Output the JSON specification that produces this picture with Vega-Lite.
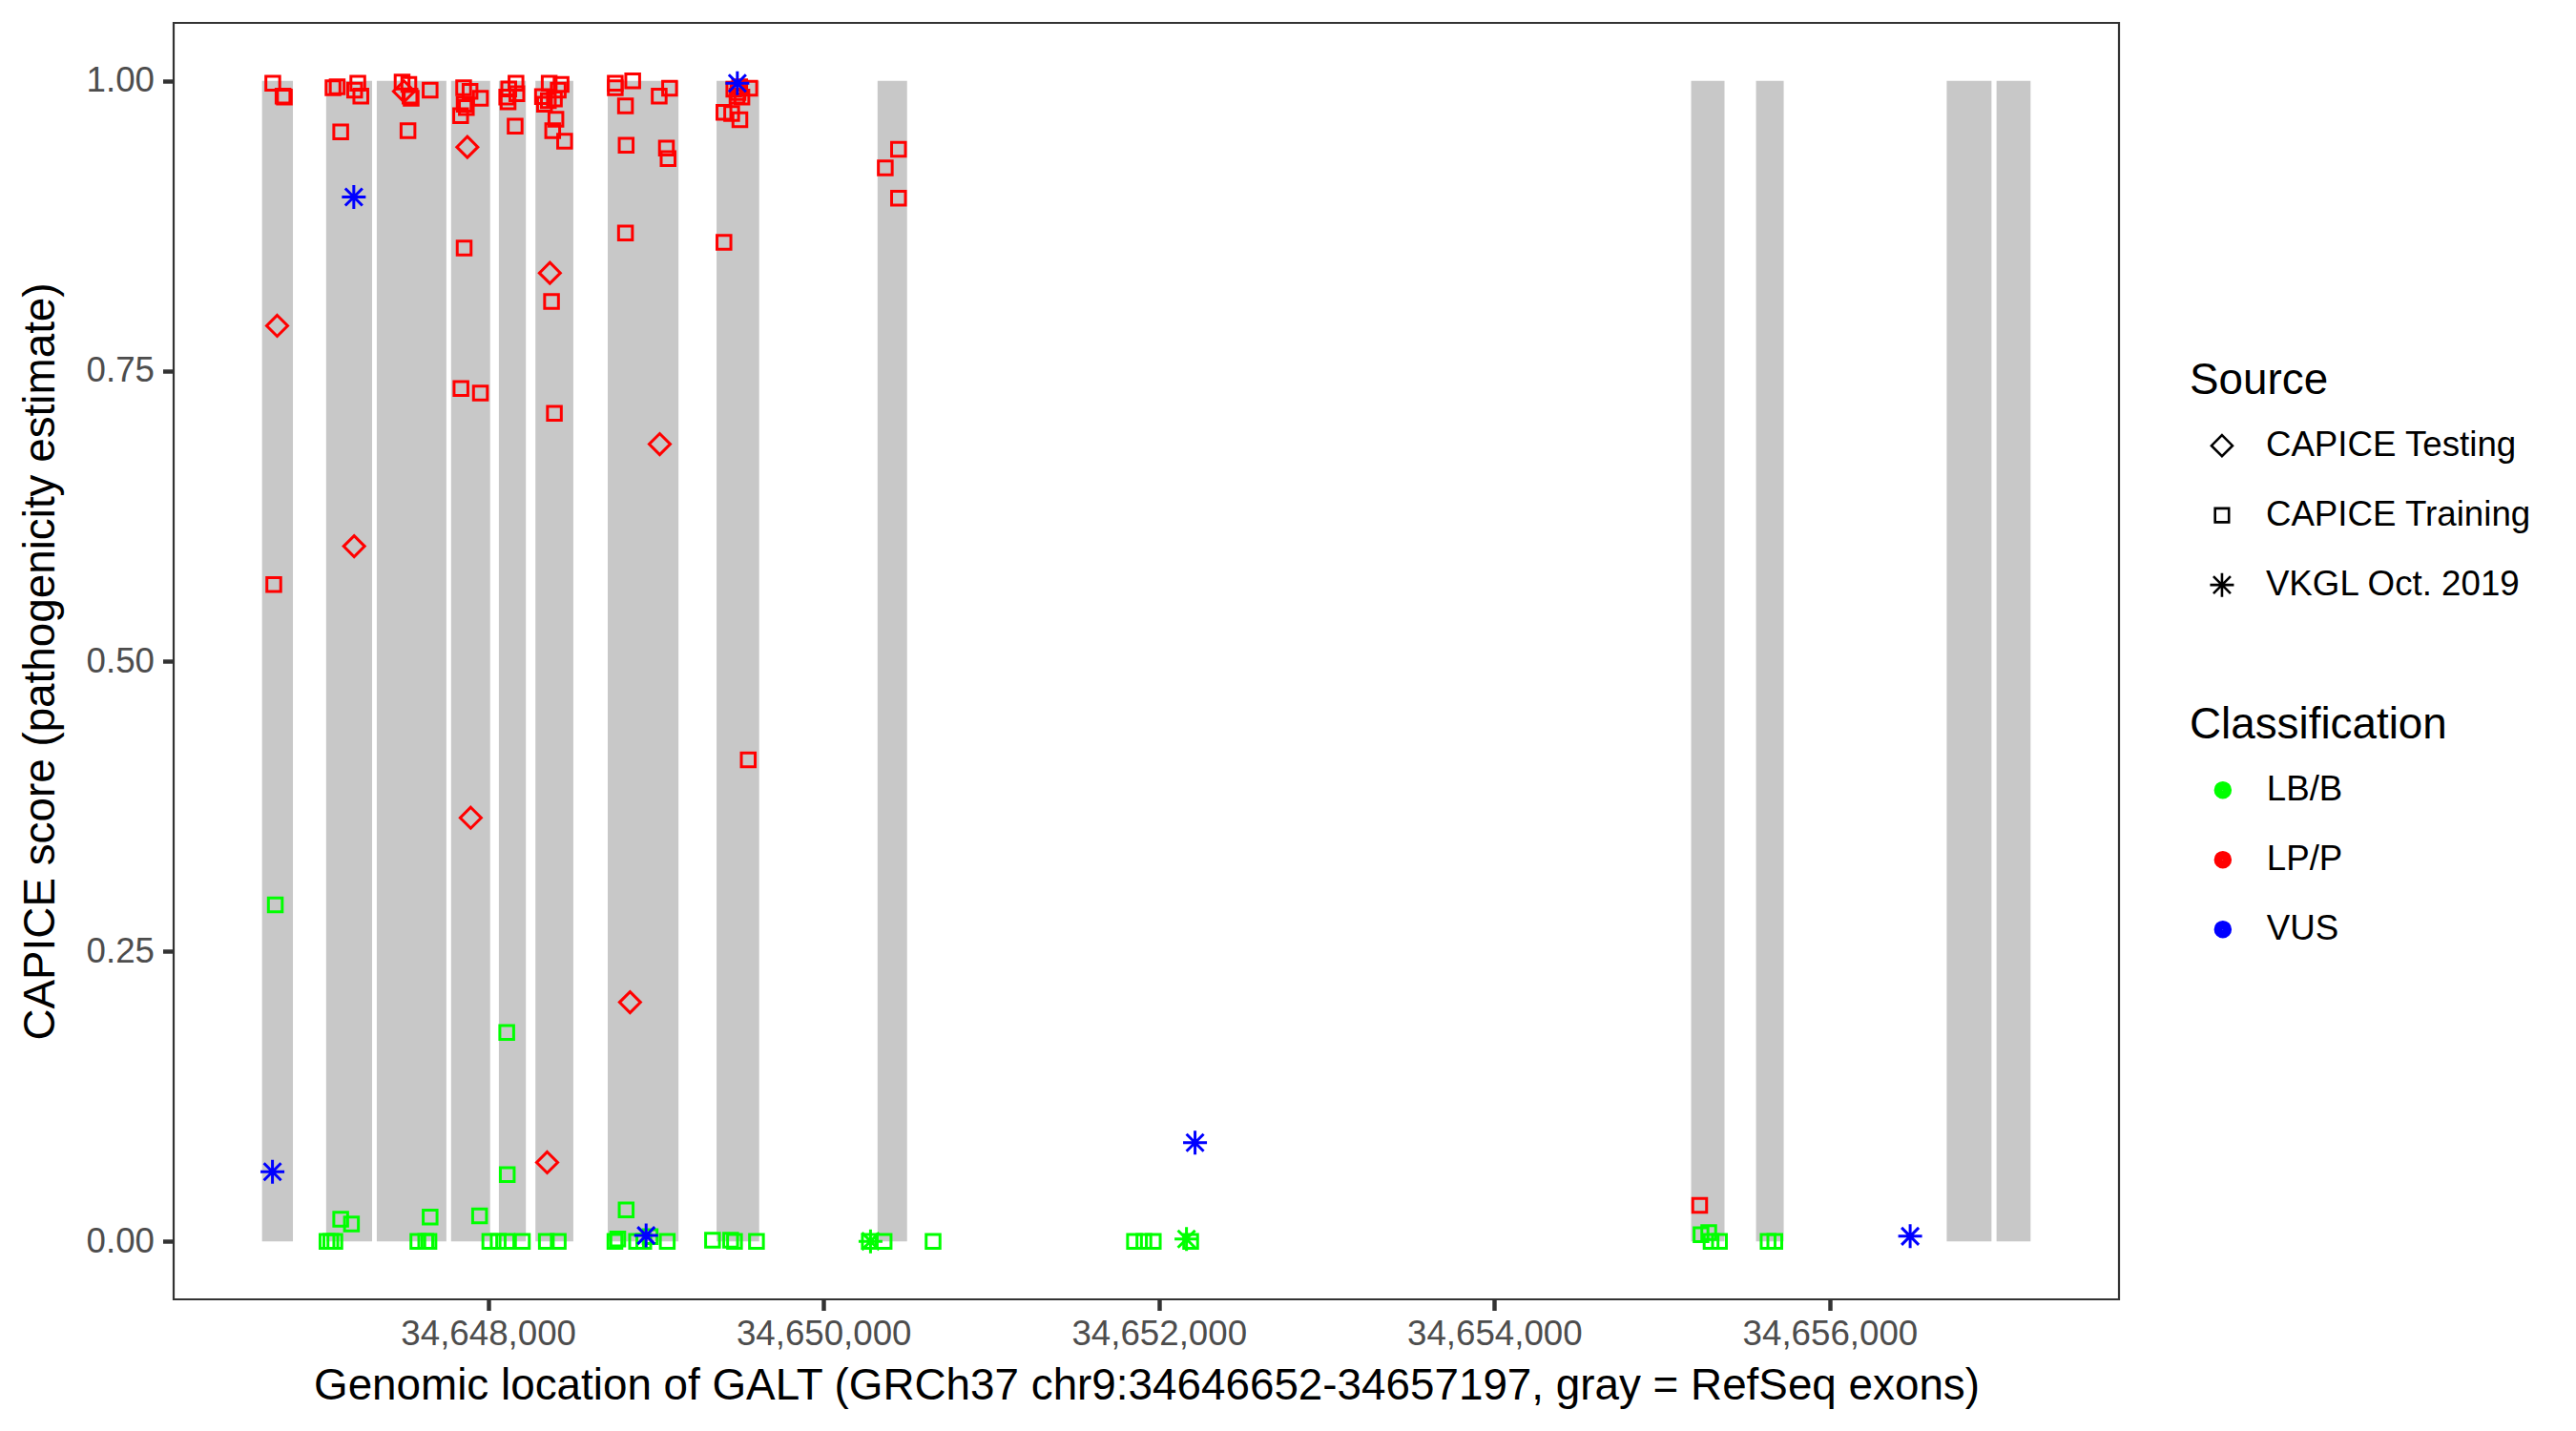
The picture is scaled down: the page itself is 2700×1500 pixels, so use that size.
{
  "$schema": "https://vega.github.io/schema/vega-lite/v6.json",
  "width": 2039,
  "height": 1338,
  "autosize": {"type": "none"},
  "padding": {"left": 182, "top": 24, "right": 479, "bottom": 138},
  "background": "white",
  "config": {
    "view": {"stroke": "#333333", "strokeWidth": 2.2},
    "font": "Liberation Sans",
    "axis": {"labelFont": "Liberation Sans", "titleFont": "Liberation Sans", "grid": false, "domain": false, "labelLimit": 1000, "titleLimit": 3000},
    "legend": {"labelFont": "Liberation Sans", "titleFont": "Liberation Sans", "labelLimit": 1000, "titleLimit": 1000}
  },
  "datasets": {
    "exons": [
      {"start": 34646652, "end": 34646836},
      {"start": 34647034, "end": 34647308},
      {"start": 34647336, "end": 34647751},
      {"start": 34647779, "end": 34648012},
      {"start": 34648064, "end": 34648225},
      {"start": 34648282, "end": 34648508},
      {"start": 34648713, "end": 34649135},
      {"start": 34649362, "end": 34649616},
      {"start": 34650322, "end": 34650498},
      {"start": 34655173, "end": 34655372},
      {"start": 34655560, "end": 34655725},
      {"start": 34656697, "end": 34656964},
      {"start": 34656994, "end": 34657197}
    ],
    "points": [
      {"pos": 34646716, "score": 0.998, "source": "CAPICE Training", "cls": "LP/P"},
      {"pos": 34646777, "score": 0.987, "source": "CAPICE Training", "cls": "LP/P"},
      {"pos": 34646785, "score": 0.986, "source": "CAPICE Training", "cls": "LP/P"},
      {"pos": 34646742, "score": 0.789, "source": "CAPICE Testing", "cls": "LP/P"},
      {"pos": 34646722, "score": 0.566, "source": "CAPICE Training", "cls": "LP/P"},
      {"pos": 34646731, "score": 0.290, "source": "CAPICE Training", "cls": "LB/B"},
      {"pos": 34647075, "score": 0.994, "source": "CAPICE Training", "cls": "LP/P"},
      {"pos": 34647100, "score": 0.995, "source": "CAPICE Training", "cls": "LP/P"},
      {"pos": 34647223, "score": 0.998, "source": "CAPICE Training", "cls": "LP/P"},
      {"pos": 34647204, "score": 0.992, "source": "CAPICE Training", "cls": "LP/P"},
      {"pos": 34647241, "score": 0.987, "source": "CAPICE Training", "cls": "LP/P"},
      {"pos": 34647121, "score": 0.956, "source": "CAPICE Training", "cls": "LP/P"},
      {"pos": 34647201, "score": 0.599, "source": "CAPICE Testing", "cls": "LP/P"},
      {"pos": 34647121, "score": 0.019, "source": "CAPICE Training", "cls": "LB/B"},
      {"pos": 34647185, "score": 0.015, "source": "CAPICE Training", "cls": "LB/B"},
      {"pos": 34647039, "score": 0.0, "source": "CAPICE Training", "cls": "LB/B"},
      {"pos": 34647062, "score": 0.0, "source": "CAPICE Training", "cls": "LB/B"},
      {"pos": 34647086, "score": 0.0, "source": "CAPICE Training", "cls": "LB/B"},
      {"pos": 34647487, "score": 0.999, "source": "CAPICE Training", "cls": "LP/P"},
      {"pos": 34647527, "score": 0.997, "source": "CAPICE Training", "cls": "LP/P"},
      {"pos": 34647498, "score": 0.991, "source": "CAPICE Testing", "cls": "LP/P"},
      {"pos": 34647534, "score": 0.987, "source": "CAPICE Training", "cls": "LP/P"},
      {"pos": 34647541, "score": 0.985, "source": "CAPICE Training", "cls": "LP/P"},
      {"pos": 34647654, "score": 0.992, "source": "CAPICE Training", "cls": "LP/P"},
      {"pos": 34647522, "score": 0.957, "source": "CAPICE Training", "cls": "LP/P"},
      {"pos": 34647654, "score": 0.021, "source": "CAPICE Training", "cls": "LB/B"},
      {"pos": 34647581, "score": 0.0, "source": "CAPICE Training", "cls": "LB/B"},
      {"pos": 34647628, "score": 0.0, "source": "CAPICE Training", "cls": "LB/B"},
      {"pos": 34647647, "score": 0.0, "source": "CAPICE Training", "cls": "LB/B"},
      {"pos": 34647854, "score": 0.994, "source": "CAPICE Training", "cls": "LP/P"},
      {"pos": 34647892, "score": 0.991, "source": "CAPICE Training", "cls": "LP/P"},
      {"pos": 34647954, "score": 0.985, "source": "CAPICE Training", "cls": "LP/P"},
      {"pos": 34647857, "score": 0.980, "source": "CAPICE Training", "cls": "LP/P"},
      {"pos": 34647870, "score": 0.977, "source": "CAPICE Training", "cls": "LP/P"},
      {"pos": 34647836, "score": 0.970, "source": "CAPICE Training", "cls": "LP/P"},
      {"pos": 34647876, "score": 0.943, "source": "CAPICE Testing", "cls": "LP/P"},
      {"pos": 34647857, "score": 0.856, "source": "CAPICE Training", "cls": "LP/P"},
      {"pos": 34647838, "score": 0.735, "source": "CAPICE Training", "cls": "LP/P"},
      {"pos": 34647954, "score": 0.731, "source": "CAPICE Training", "cls": "LP/P"},
      {"pos": 34647896, "score": 0.365, "source": "CAPICE Testing", "cls": "LP/P"},
      {"pos": 34647949, "score": 0.022, "source": "CAPICE Training", "cls": "LB/B"},
      {"pos": 34648010, "score": 0.0, "source": "CAPICE Training", "cls": "LB/B"},
      {"pos": 34648060, "score": 0.0, "source": "CAPICE Training", "cls": "LB/B"},
      {"pos": 34648112, "score": 0.0, "source": "CAPICE Training", "cls": "LB/B"},
      {"pos": 34648204, "score": 0.0, "source": "CAPICE Training", "cls": "LB/B"},
      {"pos": 34648166, "score": 0.998, "source": "CAPICE Training", "cls": "LP/P"},
      {"pos": 34648123, "score": 0.993, "source": "CAPICE Training", "cls": "LP/P"},
      {"pos": 34648111, "score": 0.986, "source": "CAPICE Training", "cls": "LP/P"},
      {"pos": 34648171, "score": 0.989, "source": "CAPICE Training", "cls": "LP/P"},
      {"pos": 34648119, "score": 0.982, "source": "CAPICE Training", "cls": "LP/P"},
      {"pos": 34648161, "score": 0.961, "source": "CAPICE Training", "cls": "LP/P"},
      {"pos": 34648114, "score": 0.0575, "source": "CAPICE Training", "cls": "LB/B"},
      {"pos": 34648111, "score": 0.180, "source": "CAPICE Training", "cls": "LB/B"},
      {"pos": 34648364, "score": 0.998, "source": "CAPICE Training", "cls": "LP/P"},
      {"pos": 34648435, "score": 0.997, "source": "CAPICE Training", "cls": "LP/P"},
      {"pos": 34648418, "score": 0.992, "source": "CAPICE Training", "cls": "LP/P"},
      {"pos": 34648324, "score": 0.9865, "source": "CAPICE Training", "cls": "LP/P"},
      {"pos": 34648359, "score": 0.983, "source": "CAPICE Training", "cls": "LP/P"},
      {"pos": 34648395, "score": 0.9845, "source": "CAPICE Training", "cls": "LP/P"},
      {"pos": 34648336, "score": 0.980, "source": "CAPICE Training", "cls": "LP/P"},
      {"pos": 34648404, "score": 0.967, "source": "CAPICE Training", "cls": "LP/P"},
      {"pos": 34648385, "score": 0.957, "source": "CAPICE Training", "cls": "LP/P"},
      {"pos": 34648456, "score": 0.948, "source": "CAPICE Training", "cls": "LP/P"},
      {"pos": 34648368, "score": 0.8345, "source": "CAPICE Testing", "cls": "LP/P"},
      {"pos": 34648378, "score": 0.810, "source": "CAPICE Training", "cls": "LP/P"},
      {"pos": 34648395, "score": 0.7135, "source": "CAPICE Training", "cls": "LP/P"},
      {"pos": 34648352, "score": 0.068, "source": "CAPICE Testing", "cls": "LP/P"},
      {"pos": 34648347, "score": 0.0, "source": "CAPICE Training", "cls": "LB/B"},
      {"pos": 34648418, "score": 0.0, "source": "CAPICE Training", "cls": "LB/B"},
      {"pos": 34648758, "score": 0.998, "source": "CAPICE Training", "cls": "LP/P"},
      {"pos": 34648758, "score": 0.994, "source": "CAPICE Training", "cls": "LP/P"},
      {"pos": 34648862, "score": 1.0, "source": "CAPICE Training", "cls": "LP/P"},
      {"pos": 34648819, "score": 0.9785, "source": "CAPICE Training", "cls": "LP/P"},
      {"pos": 34648823, "score": 0.9445, "source": "CAPICE Training", "cls": "LP/P"},
      {"pos": 34648819, "score": 0.869, "source": "CAPICE Training", "cls": "LP/P"},
      {"pos": 34649020, "score": 0.987, "source": "CAPICE Training", "cls": "LP/P"},
      {"pos": 34649082, "score": 0.9936, "source": "CAPICE Training", "cls": "LP/P"},
      {"pos": 34649063, "score": 0.942, "source": "CAPICE Training", "cls": "LP/P"},
      {"pos": 34649073, "score": 0.933, "source": "CAPICE Training", "cls": "LP/P"},
      {"pos": 34649023, "score": 0.687, "source": "CAPICE Testing", "cls": "LP/P"},
      {"pos": 34648846, "score": 0.206, "source": "CAPICE Testing", "cls": "LP/P"},
      {"pos": 34648823, "score": 0.027, "source": "CAPICE Training", "cls": "LB/B"},
      {"pos": 34648756, "score": 0.0, "source": "CAPICE Training", "cls": "LB/B"},
      {"pos": 34648773, "score": 0.002, "source": "CAPICE Training", "cls": "LB/B"},
      {"pos": 34648885, "score": 0.0, "source": "CAPICE Training", "cls": "LB/B"},
      {"pos": 34648928, "score": 0.0, "source": "CAPICE Training", "cls": "LB/B"},
      {"pos": 34648966, "score": 0.004, "source": "CAPICE Training", "cls": "LB/B"},
      {"pos": 34649068, "score": 0.0, "source": "CAPICE Training", "cls": "LB/B"},
      {"pos": 34649560, "score": 0.9936, "source": "CAPICE Training", "cls": "LP/P"},
      {"pos": 34649484, "score": 0.987, "source": "CAPICE Training", "cls": "LP/P"},
      {"pos": 34649465, "score": 0.9928, "source": "CAPICE Training", "cls": "LP/P"},
      {"pos": 34649513, "score": 0.986, "source": "CAPICE Training", "cls": "LP/P"},
      {"pos": 34649490, "score": 0.990, "source": "CAPICE Training", "cls": "LP/P"},
      {"pos": 34649500, "score": 0.995, "source": "CAPICE Training", "cls": "LP/P"},
      {"pos": 34649406, "score": 0.973, "source": "CAPICE Training", "cls": "LP/P"},
      {"pos": 34649452, "score": 0.972, "source": "CAPICE Training", "cls": "LP/P"},
      {"pos": 34649501, "score": 0.9665, "source": "CAPICE Training", "cls": "LP/P"},
      {"pos": 34649406, "score": 0.861, "source": "CAPICE Training", "cls": "LP/P"},
      {"pos": 34649551, "score": 0.415, "source": "CAPICE Training", "cls": "LP/P"},
      {"pos": 34649338, "score": 0.001, "source": "CAPICE Training", "cls": "LB/B"},
      {"pos": 34649446, "score": 0.001, "source": "CAPICE Training", "cls": "LB/B"},
      {"pos": 34649469, "score": 0.0, "source": "CAPICE Training", "cls": "LB/B"},
      {"pos": 34649600, "score": 0.0, "source": "CAPICE Training", "cls": "LB/B"},
      {"pos": 34650447, "score": 0.941, "source": "CAPICE Training", "cls": "LP/P"},
      {"pos": 34650368, "score": 0.925, "source": "CAPICE Training", "cls": "LP/P"},
      {"pos": 34650447, "score": 0.899, "source": "CAPICE Training", "cls": "LP/P"},
      {"pos": 34650273, "score": 0.0, "source": "CAPICE Training", "cls": "LB/B"},
      {"pos": 34650361, "score": 0.0, "source": "CAPICE Training", "cls": "LB/B"},
      {"pos": 34650653, "score": 0.0, "source": "CAPICE Training", "cls": "LB/B"},
      {"pos": 34651854, "score": 0.0, "source": "CAPICE Training", "cls": "LB/B"},
      {"pos": 34651910, "score": 0.0, "source": "CAPICE Training", "cls": "LB/B"},
      {"pos": 34651966, "score": 0.0, "source": "CAPICE Training", "cls": "LB/B"},
      {"pos": 34652189, "score": 0.0, "source": "CAPICE Training", "cls": "LB/B"},
      {"pos": 34655224, "score": 0.031, "source": "CAPICE Training", "cls": "LP/P"},
      {"pos": 34655232, "score": 0.0057, "source": "CAPICE Training", "cls": "LB/B"},
      {"pos": 34655278, "score": 0.0076, "source": "CAPICE Training", "cls": "LB/B"},
      {"pos": 34655292, "score": 0.0, "source": "CAPICE Training", "cls": "LB/B"},
      {"pos": 34655342, "score": 0.0, "source": "CAPICE Training", "cls": "LB/B"},
      {"pos": 34655632, "score": 0.0, "source": "CAPICE Training", "cls": "LB/B"},
      {"pos": 34655672, "score": 0.0, "source": "CAPICE Training", "cls": "LB/B"},
      {"pos": 34646714, "score": 0.060, "source": "VKGL Oct. 2019", "cls": "VUS"},
      {"pos": 34647199, "score": 0.900, "source": "VKGL Oct. 2019", "cls": "VUS"},
      {"pos": 34648942, "score": 0.005, "source": "VKGL Oct. 2019", "cls": "VUS"},
      {"pos": 34649486, "score": 0.998, "source": "VKGL Oct. 2019", "cls": "VUS"},
      {"pos": 34650280, "score": 0.0, "source": "VKGL Oct. 2019", "cls": "LB/B"},
      {"pos": 34652164, "score": 0.002, "source": "VKGL Oct. 2019", "cls": "LB/B"},
      {"pos": 34652215, "score": 0.085, "source": "VKGL Oct. 2019", "cls": "VUS"},
      {"pos": 34656479, "score": 0.0044, "source": "VKGL Oct. 2019", "cls": "VUS"}
    ]
  },
  "layer": [
    {
      "data": {"name": "exons"},
      "mark": {"type": "rect", "color": "#C8C8C8"},
      "encoding": {
        "x": {"field": "start", "type": "quantitative",
          "scale": {"domain": [34646124.75, 34657724.25], "nice": false, "zero": false},
          "axis": {"values": [34648000, 34650000, 34652000, 34654000, 34656000], "format": ",d",
            "title": "Genomic location of GALT (GRCh37 chr9:34646652-34657197, gray = RefSeq exons)",
            "labelFontSize": 36.7, "labelColor": "#4D4D4D", "tickColor": "#333333", "tickWidth": 4.45, "tickSize": 11.5,
            "labelPadding": 7, "titleFontSize": 45.8, "titleColor": "black", "titleFontWeight": "normal",
            "titleBaseline": "alphabetic", "titleY": 104}},
        "x2": {"field": "end"},
        "y": {"datum": 0, "type": "quantitative",
          "scale": {"domain": [-0.05, 1.05], "nice": false, "zero": false},
          "axis": {"values": [0, 0.25, 0.5, 0.75, 1], "format": ".2f",
            "title": "CAPICE score (pathogenicity estimate)",
            "labelFontSize": 36.7, "labelColor": "#4D4D4D", "tickColor": "#333333", "tickWidth": 4.45, "tickSize": 11.5,
            "labelPadding": 9, "titleFontSize": 45.8, "titleColor": "black", "titleFontWeight": "normal",
            "titleBaseline": "alphabetic", "titleX": -126}},
        "y2": {"datum": 1}
      }
    },
    {
      "data": {"name": "points"},
      "mark": {"type": "point", "filled": false, "size": 625, "strokeWidth": 3, "opacity": 1},
      "encoding": {
        "x": {"field": "pos", "type": "quantitative"},
        "y": {"field": "score", "type": "quantitative"},
        "shape": {"field": "source", "type": "nominal",
          "scale": {"domain": ["CAPICE Testing", "CAPICE Training", "VKGL Oct. 2019"],
            "range": ["M0,-0.88L0.88,0L0,0.88L-0.88,0Z", "M-0.58,-0.58L0.58,-0.58L0.58,0.58L-0.58,0.58Z", "M0,-1L0,1M-1,0L1,0M-0.72,-0.72L0.72,0.72M-0.72,0.72L0.72,-0.72"]},
          "legend": {"orient": "none", "legendX": 2113, "legendY": 353, "title": "Source", "padding": 0,
            "titleFontSize": 45.8, "titleFontWeight": "normal", "titleColor": "black", "titlePadding": 26,
            "labelFontSize": 36.7, "labelColor": "black", "symbolSize": 625, "symbolStrokeColor": "black",
            "symbolFillColor": "transparent", "symbolStrokeWidth": 2.6, "symbolOffset": 15.6, "labelOffset": 27.6, "rowPadding": 35}},
        "color": {"field": "cls", "type": "nominal",
          "scale": {"domain": ["LB/B", "LP/P", "VUS"], "range": ["#00FF00", "#FF0000", "#0000FF"]},
          "legend": {"orient": "none", "legendX": 2113, "legendY": 714, "title": "Classification", "padding": 0,
            "titleFontSize": 45.8, "titleFontWeight": "normal", "titleColor": "black", "titlePadding": 26,
            "labelFontSize": 36.7, "labelColor": "black", "symbolType": "circle", "symbolSize": 81,
            "symbolStrokeWidth": 9.5, "symbolOffset": 16.5, "labelOffset": 27.6, "rowPadding": 25}}
      }
    }
  ]
}
